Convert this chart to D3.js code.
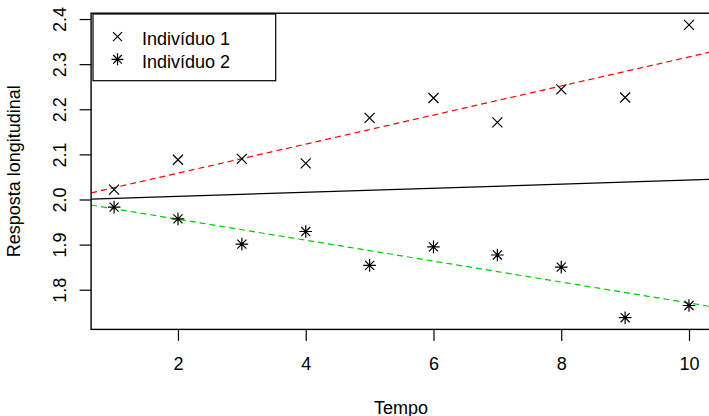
<!DOCTYPE html>
<html><head><meta charset="utf-8">
<script src="https://cdn.jsdelivr.net/npm/d3@7"></script>
<style>
html,body{margin:0;padding:0;background:#fff;}
svg{display:block;}
text{font-family:"Liberation Sans",Arial,sans-serif;font-size:18px;fill:#000;}
</style></head>
<body>
<svg id="c" width="709" height="416"></svg>
<script>
const tempo = [1,2,3,4,5,6,7,8,9,10];
const individuo1 = [2.022,2.088,2.090,2.080,2.181,2.225,2.171,2.244,2.226,2.387];
const individuo2 = [1.983,1.957,1.901,1.929,1.854,1.895,1.877,1.850,1.738,1.765];
const seriesNames = ["Indivíduo 1","Indivíduo 2"];
const xTicks = [2,4,6,8,10];
const yTicks = [1.8,1.9,2.0,2.1,2.2,2.3,2.4];
// fitted lines: [intercept, slope]
const lineInd1 = [1.994, 0.0322];
const lineInd2 = [2.0026, -0.0232];
const lineMean = [1.998, 0.0045];

const FS = "18px";
const FF = '"Liberation Sans",Arial,sans-serif';
const svg = d3.select("#c");
const L = 91.1, R = 712, T = 13.2, B = 329.4;
const xr = d3.extent(tempo);
const xpad = (xr[1]-xr[0])*0.04;
const x = d3.scaleLinear().domain([xr[0]-xpad, xr[1]+xpad]).range([L, R]);
const all = individuo1.concat(individuo2);
const yr = d3.extent(all);
const ypad = (yr[1]-yr[0])*0.04;
const y = d3.scaleLinear().domain([yr[0]-ypad, yr[1]+ypad]).range([B, T]);

svg.append("defs").append("clipPath").attr("id","plotclip")
  .append("rect").attr("x",L).attr("y",T).attr("width",R-L).attr("height",B-T);

const x0 = x.domain()[0], x1 = x.domain()[1];
function abline(p, color, dash){
  svg.append("line").attr("clip-path","url(#plotclip)")
    .attr("x1", x(x0)).attr("y1", y(p[0]+p[1]*x0))
    .attr("x2", x(x1)).attr("y2", y(p[0]+p[1]*x1))
    .attr("stroke", color).attr("stroke-width", 1.2)
    .attr("stroke-dasharray", dash || null);
}
abline(lineInd1, "#FF0000", "6,4");
abline(lineInd2, "#00CD00", "6,4");
abline(lineMean, "#000000", null);

function cross(g, cx, cy, r){
  g.append("path").attr("d",`M${cx-r},${cy-r}L${cx+r},${cy+r}M${cx-r},${cy+r}L${cx+r},${cy-r}`)
   .attr("stroke","#000").attr("stroke-width",1.2).attr("fill","none");
}
function star(g, cx, cy, r){
  const a = r*0.72;
  g.append("path").attr("d",`M${cx-a},${cy-a}L${cx+a},${cy+a}M${cx-a},${cy+a}L${cx+a},${cy-a}M${cx},${cy-r}L${cx},${cy+r}M${cx-r},${cy}L${cx+r},${cy}`)
   .attr("stroke","#000").attr("stroke-width",1.2).attr("fill","none");
}
const pg = svg.append("g");
tempo.forEach((t,i)=>{ cross(pg, x(t), y(individuo1[i]), 5); });
tempo.forEach((t,i)=>{ star(pg, x(t), y(individuo2[i]), 6.3); });

const xAxis = d3.axisBottom(x).tickValues(xTicks).tickSize(11.5).tickFormat(d3.format("d"));
const gx = svg.append("g").attr("transform",`translate(0,${B})`).call(xAxis);
gx.select(".domain").remove();
gx.selectAll(".tick line").attr("stroke","#000").attr("stroke-width",1.2);
gx.selectAll(".tick text").attr("y",null).attr("dy",null)
  .attr("transform","translate(0,41)").style("font-size",FS).style("font-family",FF);

const yAxis = d3.axisLeft(y).tickValues(yTicks).tickSize(11.5).tickFormat(d3.format(".1f"));
const gy = svg.append("g").attr("transform",`translate(${L},0)`).call(yAxis);
gy.select(".domain").remove();
gy.selectAll(".tick line").attr("stroke","#000").attr("stroke-width",1.2);
gy.selectAll(".tick text").attr("x",null).attr("dy",null)
  .attr("transform","translate(-25,0) rotate(-90)").attr("text-anchor","middle")
  .style("font-size",FS).style("font-family",FF);

svg.append("rect").attr("x",L).attr("y",T).attr("width",R-L).attr("height",B-T)
  .attr("fill","none").attr("stroke","#000").attr("stroke-width",1.4);

svg.append("text").attr("x",(L+R)/2 - 0.5).attr("y",413.5).attr("text-anchor","middle").text("Tempo");
svg.append("text").attr("transform",`translate(20,${(T+B)/2}) rotate(-90)`)
  .attr("text-anchor","middle").text("Resposta longitudinal");

const lg = svg.append("g");
lg.append("rect").attr("x",93).attr("y",14).attr("width",182.7).attr("height",66.7)
  .attr("fill","#fff").attr("stroke","#000").attr("stroke-width",1.2);
cross(lg, 117.5, 36.7, 4.5);
star(lg, 117.5, 59.3, 6);
lg.append("text").attr("x",142).attr("y",45).text(seriesNames[0]);
lg.append("text").attr("x",142).attr("y",67.8).text(seriesNames[1]);
</script>
</body></html>
